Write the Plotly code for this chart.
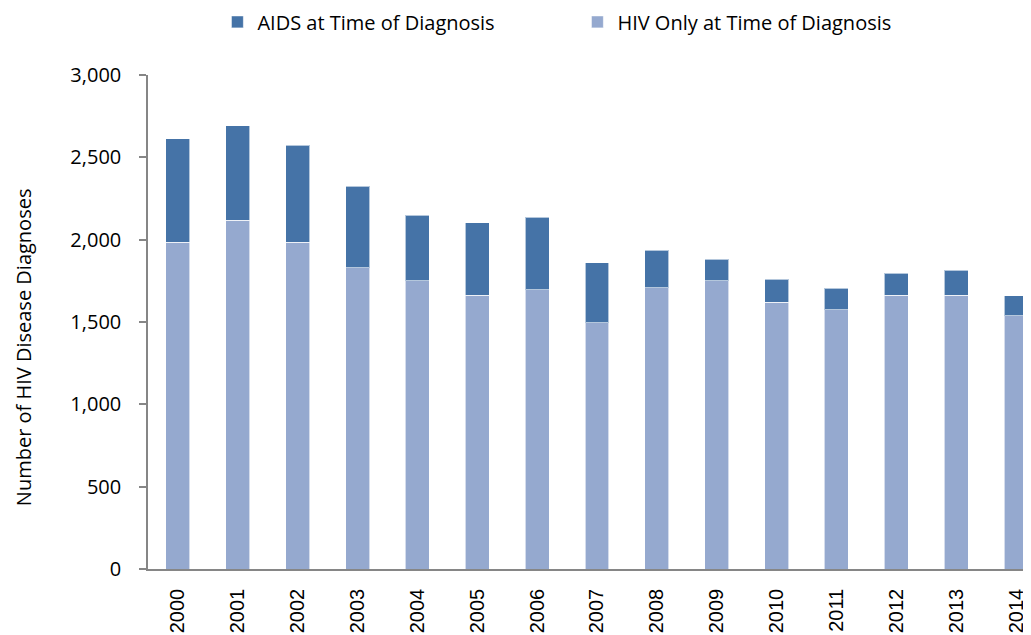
import plotly.graph_objects as go

years = ["2000", "2001", "2002", "2003", "2004", "2005", "2006", "2007",
         "2008", "2009", "2010", "2011", "2012", "2013", "2014"]
totals = [2614, 2693, 2572, 2325, 2149, 2104, 2137, 1860, 1937, 1882, 1761, 1704, 1795, 1815, 1659]
hiv_only = [1983, 2117, 1983, 1829, 1750, 1661, 1696, 1495, 1708, 1750, 1619, 1574, 1661, 1661, 1538]
aids = [t - h for t, h in zip(totals, hiv_only)]

y_ticks = [0, 500, 1000, 1500, 2000, 2500, 3000]

fig = go.Figure()
fig.add_trace(go.Bar(
    x=years, y=hiv_only, name="HIV Only at Time of Diagnosis",
    marker=dict(color="#95A9CF", line=dict(color="rgba(255,255,255,0.6)", width=1)),
    width=0.4,
))
fig.add_trace(go.Bar(
    x=years, y=aids, name="AIDS at Time of Diagnosis",
    marker=dict(color="#4573A7", line=dict(color="rgba(255,255,255,0.6)", width=1)),
    width=0.4,
))

# page body has an 8px default margin; size the figure to fit the window
fig.update_layout(
    width=1023, height=627,
    barmode="stack",
    plot_bgcolor="white", paper_bgcolor="white",
    margin=dict(l=140, r=0, t=67, b=66, autoexpand=False),
    font=dict(family="Open Sans, Arial", color="black"),
    legend=dict(
        orientation="h", traceorder="reversed",
        x=0.0786, xanchor="left", y=1.147, yanchor="top",
        font=dict(family="Open Sans", size=20),
        entrywidth=315, entrywidthmode="pixels",
        itemwidth=30,
    ),
    xaxis=dict(
        type="category", range=[-0.5, 14.25],
        showline=True, linecolor="#868686", linewidth=1.5,
        ticks="", tickangle=-90,
        tickfont=dict(family="Liberation Sans, Arial", size=20),
        ticklabelstandoff=10,
        automargin=False,
    ),
    yaxis=dict(
        range=[0, 3000], tickvals=y_ticks, ticktext=[f"{v:,}" for v in y_ticks],
        showline=True, linecolor="#868686", linewidth=1.5,
        ticks="outside", ticklen=7, tickcolor="#868686", tickwidth=1.5,
        showgrid=False, zeroline=False,
        tickfont=dict(family="Open Sans", size=20),
        ticklabelstandoff=14,
        automargin=False,
    ),
    annotations=[dict(
        text="Number of HIV Disease Diagnoses", textangle=-90,
        xref="paper", yref="paper", x=-0.1586, y=0.45,
        xanchor="left", yanchor="middle", showarrow=False,
        font=dict(family="Open Sans", size=20),
    )],
)

fig.write_html("out.html")
